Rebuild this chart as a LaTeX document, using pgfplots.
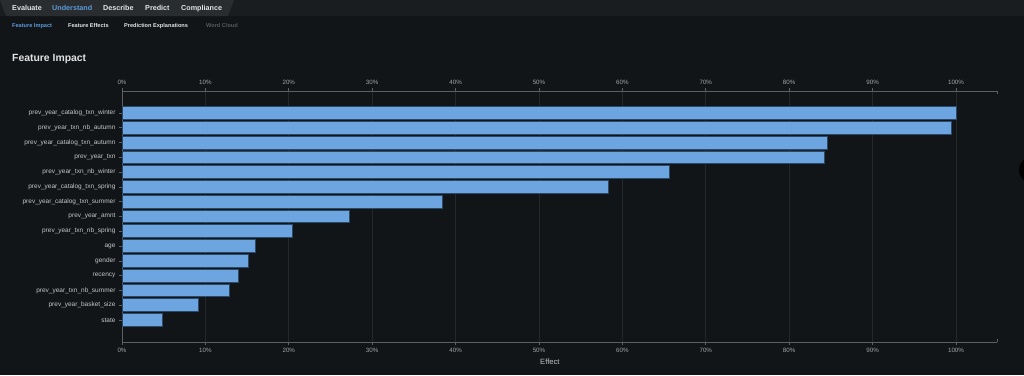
\documentclass[border=0pt]{standalone}
\usepackage{pgfplots}
\pgfplotsset{compat=1.18}
\usepackage{fontspec}
\setmainfont{Liberation Sans}
\definecolor{bg}{HTML}{121517}
\definecolor{strip}{HTML}{1A1D1F}
\definecolor{tab}{HTML}{2A2D30}
\definecolor{hdrtext}{HTML}{E2E3E4}
\definecolor{blueacc}{HTML}{5A9AD8}
\definecolor{graytext}{HTML}{55595C}
\definecolor{barfill}{HTML}{6CA5E0}
\definecolor{barborder}{HTML}{2C4A68}
\definecolor{axisline}{HTML}{5C6064}
\definecolor{gridc}{HTML}{24282B}
\definecolor{ticktext}{HTML}{A0A4A8}
\definecolor{ylabtext}{HTML}{C4C6C8}
\begin{document}
\begin{tikzpicture}
\fill[bg] (0pt,0pt) rectangle (1024pt,-375pt);
\useasboundingbox (0pt,0pt) rectangle (1024pt,-375pt);
\fill[strip] (0pt,0pt) rectangle (1024pt,-16pt);
\fill[tab] (0pt,0pt) -- (234pt,0pt) -- (228pt,-16pt) -- (6pt,-16pt) -- cycle;
\fill[black] (1033pt,-170pt) circle (14pt);
% header tabs
\begin{scope}[every node/.style={anchor=base west,inner sep=0pt,font=\fontsize{7.2}{8}\selectfont\bfseries}]
\node[text=hdrtext] at (12pt,-10.3pt) {Evaluate};
\node[text=blueacc] at (52pt,-10.3pt) {Understand};
\node[text=hdrtext] at (103pt,-10.3pt) {Describe};
\node[text=hdrtext] at (145pt,-10.3pt) {Predict};
\node[text=hdrtext] at (181pt,-10.3pt) {Compliance};
\end{scope}
\begin{scope}[every node/.style={anchor=base west,inner sep=0pt,font=\fontsize{5.6}{7}\selectfont\bfseries}]
\node[text=blueacc] at (12pt,-27.6pt) {Feature Impact};
\node[text=hdrtext] at (68pt,-27.6pt) {Feature Effects};
\node[text=hdrtext] at (124pt,-27.6pt) {Prediction Explanations};
\node[text=graytext] at (206pt,-27.6pt) {Word Cloud};
\end{scope}
\node[anchor=base west,inner sep=0pt,text=hdrtext,font=\fontsize{10.4}{12}\selectfont\bfseries] at (12pt,-61.7pt) {Feature Impact};
% main axis
\begin{axis}[
  at={(122pt,-342pt)}, anchor=south west,
  scale only axis, width=875pt, height=251pt,
  xmin=0, xmax=104.92, ymin=-1.488, ymax=15.488,
  xbar,
  axis x line*=bottom, axis y line*=left,
  axis line style={axisline, line width=0.8pt, -},
  tick align=outside,
  major tick length=3pt,
  tick style={axisline, line width=0.6pt},
  xtick={0,10,...,100},
  xticklabels={0\%,10\%,20\%,30\%,40\%,50\%,60\%,70\%,80\%,90\%,100\%},
  xticklabel style={text=ticktext, font=\fontsize{6.2}{7}\selectfont},
  ytick={0,...,14},
  yticklabels={state,prev\_year\_basket\_size,prev\_year\_txn\_nb\_summer,recency,gender,age,prev\_year\_txn\_nb\_spring,prev\_year\_amnt,prev\_year\_catalog\_txn\_summer,prev\_year\_catalog\_txn\_spring,prev\_year\_txn\_nb\_winter,prev\_year\_txn,prev\_year\_catalog\_txn\_autumn,prev\_year\_txn\_nb\_autumn,prev\_year\_catalog\_txn\_winter},
  yticklabel style={text=ylabtext, font=\fontsize{6.5}{7}\selectfont},
  ymajorgrids=false, xmajorgrids=true,
  major grid style={gridc, line width=0.6pt},
]
\addplot[fill=barfill, draw=barborder, line width=0.9pt, bar width=12.8pt, bar shift=0pt]
coordinates {(4.8,0) (9.2,1) (12.9,2) (14.0,3) (15.2,4) (16.0,5) (20.4,6) (27.3,7) (38.4,8) (58.3,9) (65.6,10) (84.2,11) (84.6,12) (99.4,13) (100,14)};
\end{axis}
% top axis
\begin{axis}[
  at={(122pt,-342pt)}, anchor=south west,
  scale only axis, width=875pt, height=251pt,
  xmin=0, xmax=104.92, ymin=-1.488, ymax=15.488,
  axis x line*=top, hide y axis,
  axis line style={axisline, line width=0.8pt, -},
  tick align=outside,
  major tick length=3pt,
  tick style={axisline, line width=0.6pt},
  xtick={0,10,...,100},
  xticklabels={0\%,10\%,20\%,30\%,40\%,50\%,60\%,70\%,80\%,90\%,100\%},
  xticklabel style={text=ticktext, font=\fontsize{6.2}{7}\selectfont},
]
\addplot[draw=none] coordinates {(0,0)};
\end{axis}
\draw[axisline, line width=0.6pt] (997pt,-91pt) -- (997pt,-94pt);
\draw[axisline, line width=0.6pt] (997pt,-342pt) -- (997pt,-339pt);
\node[text=ylabtext, font=\fontsize{7.6}{9}\selectfont, anchor=west, inner sep=0pt] at (540pt,-362pt) {Effect};
\end{tikzpicture}
\end{document}
